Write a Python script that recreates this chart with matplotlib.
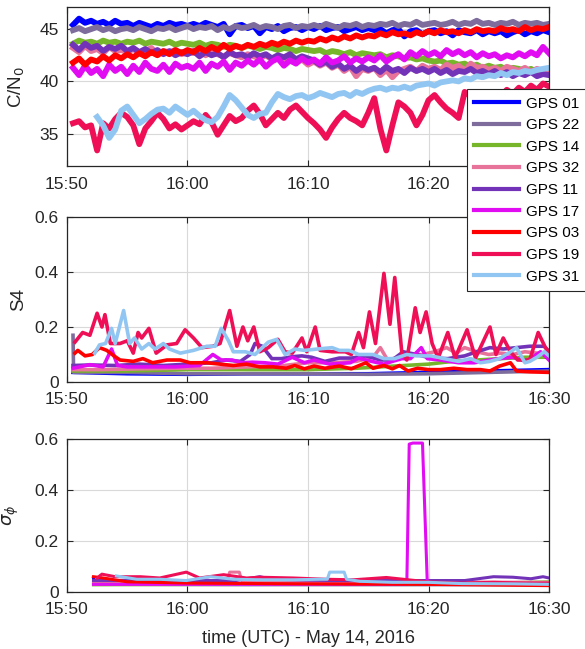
import numpy as np
import matplotlib.pyplot as plt

plt.rcParams['font.family'] = ['Liberation Sans', 'DejaVu Sans']

# time axis in minutes after 15:50 UTC
tick_min = [0, 10, 20, 30, 40]
tick_lbl = ['15:50', '16:00', '16:10', '16:20', '16:30']

sats = ['GPS 01', 'GPS 22', 'GPS 14', 'GPS 32', 'GPS 11', 'GPS 17', 'GPS 03', 'GPS 19', 'GPS 31']
colors = ['#0000ff', '#7d6c9c', '#77b52a', '#e8739a', '#7233b8', '#e20cf2', '#ff0000', '#ee0f57', '#92c6f2']

# C/N0 samples every 30 s from 15:50:30 to 16:30
t_cn0 = np.arange(0.5, 40.01, 0.5)
nan = np.nan

cn0_01 = [45.4, 46.0, 45.6, 45.8, 45.5, 45.7, 45.4, 45.8, 45.5, 45.6,
          45.3, 45.6, 45.4, 45.2, 45.5, 45.3, 45.6, 45.4, 45.5, 45.3,
          45.5, 45.3, 45.6, 45.4, 45.2, 45.5, 44.5, 45.3, 45.4, 45.1,
          45.3, 44.6, 45.2, 45.0, 45.3, 44.8, 45.1, 45.2, 44.9, 45.2,
          45.0, 45.3, 44.9, 45.1, 45.2, 44.8, 45.0, 45.2, 44.9, 45.1,
          44.9, 45.0, 44.6, 44.9, 45.0, 44.3, 44.8, 44.9, 44.5, 44.8,
          44.9, 44.6, 44.8, 44.4, 44.9, 44.7, 44.6, 44.9, 44.5, 44.8,
          44.6, 44.8, 44.4, 44.7, 44.9, 44.5, 44.8, 44.6, 44.9, 44.7]
cn0_22 = [44.9, 45.1, 44.8, 45.0, 45.2, 44.9, 45.1, 44.8, 45.0, 45.1,
          44.9, 45.2, 45.0, 44.8, 45.1, 45.0, 45.2, 44.9, 45.1, 45.3,
          45.0, 45.2, 45.1, 45.3, 44.9, 45.2, 45.0, 45.3, 45.1, 45.2,
          45.4, 45.1, 45.3, 45.2, 45.0, 45.3, 45.4, 45.1, 45.3, 45.2,
          45.4, 45.2, 45.5, 45.3, 45.1, 45.4, 45.3, 45.5, 45.2, 45.4,
          45.3, 45.5, 45.4, 45.6, 45.3, 45.5, 45.4, 45.7, 45.4, 45.5,
          45.6, 45.4, 45.5, 45.7, 45.4, 45.6, 45.5, 45.8, 45.5, 45.6,
          45.4, 45.6, 45.5, 45.7, 45.4, 45.6, 45.5, 45.6, 45.4, 45.5]
cn0_14 = [43.6, 43.9, 43.7, 43.8, 43.6, 43.9, 43.7, 43.8, 43.6, 43.8,
          43.7, 43.9, 43.6, 43.8, 43.7, 43.6, 43.8, 43.5, 43.7, 43.6,
          43.5, 43.7, 43.4, 43.6, 43.5, 43.3, 43.5, 43.4, 43.2, 43.4,
          43.3, 43.1, 43.3, 43.2, 43.0, 43.2, 43.1, 42.9, 43.1, 43.0,
          42.9, 43.0, 42.7, 42.9, 42.8, 42.6, 42.8, 42.5, 42.7, 42.6,
          42.5, 42.6, 42.3, 42.5, 42.4, 42.2, 42.3, 42.1, 42.2, 42.0,
          41.9, 42.0, 41.7, 41.8, 41.6, 41.7, 41.4, 41.6, 41.3, 41.5,
          41.3, 41.4, 41.1, 41.3, 41.2, 41.0, 41.2, 40.9, 41.1, 41.0]
cn0_32 = [43.2, 42.8, 43.4, 42.9, 43.1, 42.7, 43.3, 42.9, 43.0, 42.8,
          43.1, 42.7, 42.9, 43.2, 42.6, 42.9, 42.8, 43.0, 42.6, 42.8,
          42.7, 42.9, 42.5, 42.8, 42.6, 42.4, 42.7, 42.5, 42.3, 42.6,
          42.4, 42.2, 42.5, 42.1, 42.3, 42.0, 42.2, 41.8, 42.1, 41.6,
          41.9, 41.5, 41.8, 41.3, 41.6, 41.0, 41.4, 40.5, 41.2, 41.0,
          41.3, 40.6, 41.1, 40.4, 41.0, 41.2, 41.4, 41.0, 41.5, 41.2,
          41.4, 41.1, 41.6, 41.3, 41.5, 41.0, 41.7, 41.3, 41.4, 41.1,
          41.3, 41.0, 41.4, 41.2, 41.0, 41.3, 40.9, 41.2, 41.0, 41.1]
cn0_11 = [43.5, 43.0, 43.6, 43.2, 43.4, 42.9, 43.3, 43.1, 43.4, 42.9,
          43.2, 42.8, 43.1, 42.7, 43.0, 42.6, 42.9, 42.5, 42.8, 42.6,
          42.9, 42.4, 42.8, 42.5, 42.7, 42.3, 42.8, 42.5, 42.6, 42.3,
          42.7, 42.4, 42.6, 42.2, 42.5, 42.3, 42.6, 42.1, 42.4, 42.2,
          42.0, 41.6, 41.9, 41.4, 41.7, 41.2, 41.5, 41.0, 41.4, 41.1,
          41.3, 40.9, 41.4, 41.0, 41.2, 40.8, 41.3, 41.0, 41.2, 40.9,
          41.2, 40.8, 41.1, 40.7, 41.0, 40.9, 41.2, 40.8, 41.0, 40.7,
          41.0, 40.6, 40.9, 40.5, 40.8, 40.6, 40.9, 40.5, 40.7, 40.6]
cn0_17 = [41.3, 40.6, 41.5, 40.8, 41.2, 40.5, 41.6, 41.0, 41.4, 40.7,
          41.5, 40.9, 41.8, 41.2, 41.0, 41.6, 40.9, 41.7, 41.3, 41.5,
          41.2, 41.8, 41.0, 41.7, 41.4, 41.9, 41.1, 41.8, 41.5, 42.0,
          41.6, 42.1, 41.4, 41.9, 42.2, 41.5, 42.0, 41.7, 42.2, 41.8,
          42.1, 41.7, 42.3, 41.8, 42.0, 42.4, 41.8, 42.2, 41.9, 42.3,
          42.0, 42.5, 41.9, 42.3, 42.6, 42.1, 42.8, 42.4, 42.9, 42.5,
          42.8, 42.4, 43.0, 42.6, 42.9, 42.5, 42.8, 42.3, 42.7, 42.4,
          42.6, 42.2, 42.5, 42.3, 42.7, 42.4, 42.8, 42.5, 43.3, 42.7]
cn0_03 = [41.8, 42.2, 41.6, 42.1, 41.9, 42.4, 42.0, 42.5, 42.2, 42.6,
          42.3, 42.7, 42.4, 42.8, 42.5, 42.9, 42.6, 43.0, 42.7, 43.0,
          42.8, 43.2, 42.9, 43.3, 43.0, 43.5, 43.1, 43.4, 43.2, 43.5,
          43.3, 43.6, 43.4, 43.7, 43.5, 43.8, 43.6, 43.9, 43.7, 43.9,
          43.8, 44.1, 43.9, 44.2, 44.0, 44.3, 44.1, 44.4, 44.2, 44.4,
          44.3, 44.6, 44.4, 44.7, 44.5, 44.6, 44.4, 44.7, 44.5, 44.8,
          44.6, 44.9, 44.7, 44.8, 44.6, 44.9, 44.7, 45.0, 44.8, 44.9,
          44.8, 45.1, 44.9, 45.0, 44.8, 45.2, 44.9, 45.1, 45.0, 45.2]
cn0_19 = [36.0, 36.2, 35.6, 35.8, 33.4, 36.0, 35.5, 36.4, 37.0, 36.6,
          35.8, 34.0, 35.5, 36.2, 37.0, 36.4, 35.5, 35.9, 35.4, 35.8,
          36.2, 35.9, 36.8, 36.1, 34.9, 35.8, 36.7, 36.2, 36.5, 37.2,
          37.7, 36.9, 35.8, 36.4, 37.0, 36.5, 37.3, 37.7, 37.1, 36.5,
          36.0, 35.4, 34.6, 35.6, 36.4, 37.0, 36.5, 36.2, 35.8, 37.0,
          38.4, 35.5, 33.4, 35.8, 38.0, 37.6, 37.0, 35.8, 36.8, 38.2,
          38.7, 38.0, 37.4, 37.0, 36.5, 39.0, 38.6, 38.2, 38.8, 38.4,
          39.0, 38.6, 39.2, 38.8, 39.4, 39.0, 39.6, 39.2, 39.8, 39.5]
cn0_31 = [nan, nan, nan, nan, 36.6, 35.8, 34.6, 35.4, 37.2, 37.6,
          36.8, 36.0, 36.4, 36.9, 37.3, 37.4, 37.0, 37.6, 37.2, 36.8,
          37.2, 36.7, 36.3, 36.1, 36.6, 37.6, 38.7, 38.2, 37.5, 36.8,
          36.5, 36.9, 37.0, 38.0, 38.8, 38.5, 38.3, 38.6, 38.7, 38.4,
          38.6, 38.9, 38.7, 38.5, 38.8, 38.9, 38.6, 39.0, 38.8, 39.1,
          39.3, 39.4, 39.2, 39.4, 39.3, 39.5, 39.3, 39.6, 39.7, 39.8,
          39.6, 39.9, 40.0, 40.1, 40.0, 40.3, 40.2, 40.5, 40.4, 40.6,
          40.5, 40.8, 40.6, 40.9, 40.8, 41.0, 40.9, 41.1, 41.2, 41.3]
cn0 = [cn0_01, cn0_22, cn0_14, cn0_32, cn0_11, cn0_17, cn0_03, cn0_19, cn0_31]

# S4 index: (minute, value) pairs
s4_01 = [(0.5, 0.035), (5, 0.03), (10, 0.028), (15, 0.03), (20, 0.03), (25, 0.03), (30, 0.035), (35, 0.04), (40, 0.045)]
s4_22 = [(0.5, 0.17), (0.55, 0.035), (5, 0.035), (10, 0.03), (15, 0.03), (20, 0.03), (25, 0.028), (30, 0.03), (35, 0.035), (40, 0.04)]
s4_14 = [(0.5, 0.04), (5, 0.04), (10, 0.045), (15, 0.045), (20, 0.045), (24, 0.05), (26, 0.055), (28, 0.06),
         (30, 0.065), (32, 0.075), (34, 0.08), (36, 0.085), (38, 0.09), (40, 0.09)]
s4_32 = [(0.5, 0.045), (3, 0.045), (6, 0.048), (9, 0.05), (12, 0.05), (15, 0.055), (18, 0.06), (20, 0.07), (22, 0.07),
         (24, 0.075), (25.4, 0.09), (26.0, 0.125), (26.6, 0.08), (27.5, 0.09), (28.5, 0.10), (29.5, 0.10), (30.5, 0.11),
         (31.5, 0.125), (32.3, 0.105), (33.0, 0.125), (34.0, 0.11), (35.0, 0.10), (36.0, 0.105), (37.0, 0.10),
         (38.0, 0.11), (39.0, 0.105), (40.0, 0.10)]
s4_11 = [(0.5, 0.06), (2, 0.062), (4, 0.06), (6, 0.065), (8, 0.06), (10, 0.065), (12, 0.07), (13.2, 0.08), (14.4, 0.075),
         (15.2, 0.10), (15.6, 0.14), (16.2, 0.13), (17.0, 0.085), (17.8, 0.085), (18.7, 0.092), (19.5, 0.095),
         (20.3, 0.09), (21.4, 0.075), (22.6, 0.087), (23.6, 0.087), (24.8, 0.095), (26.0, 0.08), (27.0, 0.08),
         (27.9, 0.11), (29.0, 0.10), (30.2, 0.087), (31.6, 0.085), (33.0, 0.095), (34.0, 0.11), (35.1, 0.125),
         (36.2, 0.12), (37.3, 0.125), (38.4, 0.13), (39.6, 0.13), (40.0, 0.11)]
s4_17 = [(0.5, 0.05), (1.9, 0.063), (3.0, 0.055), (3.7, 0.12), (4.2, 0.06), (5, 0.055), (7, 0.055), (9, 0.055),
         (11, 0.06), (12.1, 0.10), (12.8, 0.08), (13.7, 0.08), (14.5, 0.07), (15.4, 0.072), (16.4, 0.07),
         (17.5, 0.065), (18.7, 0.09), (19.7, 0.07), (20.5, 0.08), (21.8, 0.065), (23.5, 0.07), (24.2, 0.087),
         (24.8, 0.08), (26.3, 0.065), (27.0, 0.075), (27.8, 0.085), (28.5, 0.085), (29.4, 0.125), (29.9, 0.085),
         (31.0, 0.08), (32.5, 0.07), (33.8, 0.07), (35.1, 0.08), (36.2, 0.087), (37.0, 0.09), (38.1, 0.075),
         (39.3, 0.11), (40.0, 0.08)]
s4_03 = [(0.66, 0.105), (0.9, 0.115), (1.5, 0.095), (2.1, 0.10), (2.7, 0.125), (3.3, 0.115), (3.9, 0.095), (4.4, 0.08),
         (5.5, 0.075), (6.3, 0.085), (7.1, 0.07), (8.3, 0.08), (9.4, 0.08), (10.2, 0.07), (11.6, 0.07), (12.7, 0.065),
         (13.8, 0.06), (14.9, 0.065), (16.0, 0.055), (17.1, 0.055), (18.2, 0.05), (18.9, 0.06), (19.7, 0.048),
         (20.5, 0.058), (21.4, 0.05), (22.6, 0.058), (23.6, 0.048), (24.8, 0.07), (25.4, 0.05), (26.3, 0.06),
         (27.0, 0.048), (27.6, 0.06), (28.3, 0.04), (29.1, 0.05), (30.0, 0.045), (31.0, 0.045), (32.1, 0.05),
         (33.2, 0.045), (34.3, 0.045), (35.1, 0.04), (35.9, 0.058), (36.8, 0.07), (37.3, 0.04), (38.4, 0.037),
         (40.0, 0.035)]
s4_19 = [(0.66, 0.145), (1.3, 0.18), (1.9, 0.17), (2.5, 0.25), (2.9, 0.20), (3.15, 0.245), (3.6, 0.14), (4.4, 0.14),
         (5.0, 0.15), (5.5, 0.105), (5.9, 0.18), (6.2, 0.16), (6.8, 0.195), (7.4, 0.105), (8.3, 0.135), (9.1, 0.14),
         (9.8, 0.19), (10.5, 0.16), (11.2, 0.125), (12.1, 0.13), (12.7, 0.14), (13.5, 0.26), (14.1, 0.13),
         (14.6, 0.20), (15.0, 0.15), (15.5, 0.20), (16.0, 0.11), (16.7, 0.125), (17.5, 0.155), (18.1, 0.11),
         (18.7, 0.105), (19.5, 0.16), (19.9, 0.11), (20.6, 0.20), (21.0, 0.115), (22.0, 0.11), (23.1, 0.11),
         (23.6, 0.10), (24.2, 0.18), (24.6, 0.125), (25.1, 0.255), (25.6, 0.14), (26.3, 0.395), (26.8, 0.21),
         (27.2, 0.38), (27.8, 0.10), (28.2, 0.08), (28.9, 0.27), (29.3, 0.18), (29.8, 0.255), (30.3, 0.14),
         (30.8, 0.087), (31.6, 0.18), (32.2, 0.087), (33.2, 0.19), (33.9, 0.087), (35.1, 0.20), (35.6, 0.10),
         (36.2, 0.16), (36.8, 0.11), (37.4, 0.08), (38.4, 0.08), (39.1, 0.18), (39.7, 0.125), (40.0, 0.11)]
s4_31 = [(2.3, 0.105), (2.7, 0.135), (3.2, 0.14), (3.7, 0.195), (4.0, 0.14), (4.7, 0.26), (5.2, 0.14), (5.6, 0.16),
         (6.2, 0.12), (6.8, 0.14), (7.3, 0.12), (8.0, 0.14), (8.5, 0.12), (9.4, 0.105), (10.5, 0.115), (11.6, 0.13),
         (12.3, 0.13), (12.8, 0.195), (13.4, 0.15), (13.8, 0.11), (14.8, 0.11), (15.6, 0.10), (16.7, 0.145),
         (17.4, 0.155), (18.1, 0.10), (18.9, 0.12), (19.7, 0.115), (20.8, 0.12), (22.0, 0.125), (22.6, 0.115),
         (23.4, 0.115), (24.2, 0.10), (25.4, 0.10), (26.3, 0.085), (27.2, 0.085), (28.2, 0.10), (29.0, 0.095),
         (30.2, 0.095), (31.3, 0.085), (32.5, 0.075), (33.5, 0.085), (34.3, 0.07), (35.1, 0.075), (35.9, 0.085),
         (36.8, 0.11), (37.3, 0.125), (38.0, 0.07), (38.4, 0.075), (39.0, 0.09), (39.6, 0.11), (40.0, 0.095)]
s4 = [s4_01, s4_22, s4_14, s4_32, s4_11, s4_17, s4_03, s4_19, s4_31]

# phase scintillation sigma_phi: (minute, value)
sp_01 = [(2.2, 0.055), (2.3, 0.03), (10, 0.032), (20, 0.03), (30, 0.03), (40, 0.03)]
sp_22 = [(2.2, 0.03), (15, 0.028), (30, 0.028), (40, 0.028)]
sp_14 = [(2.2, 0.028), (20, 0.03), (35, 0.035), (40, 0.04)]
sp_32 = [(2.2, 0.04), (8, 0.04), (13.3, 0.045), (13.5, 0.078), (14.3, 0.078), (14.5, 0.045), (20, 0.04), (30, 0.04),
         (40, 0.038)]
sp_11 = [(2.2, 0.045), (8, 0.045), (14, 0.045), (16, 0.06), (17, 0.05), (22, 0.045), (28, 0.045), (33, 0.045),
         (35.4, 0.06), (37, 0.058), (38.5, 0.052), (39.5, 0.06), (40, 0.055)]
sp_17 = [(2.2, 0.03), (10, 0.03), (20, 0.03), (28.2, 0.03), (28.4, 0.58), (28.7, 0.584), (29.5, 0.584), (29.9, 0.035),
         (30.2, 0.03), (35, 0.03), (40, 0.03)]
sp_03 = [(2.2, 0.06), (3, 0.055), (5, 0.04), (10, 0.035), (20, 0.032), (30, 0.03), (40, 0.025)]
sp_19 = [(2.5, 0.055), (2.9, 0.07), (4, 0.06), (6.1, 0.06), (7.7, 0.055), (9.9, 0.078), (11, 0.055), (13, 0.068),
         (14.9, 0.055), (16, 0.058), (18.8, 0.055), (21.5, 0.05), (23.8, 0.048), (26.5, 0.057), (29.9, 0.04),
         (32.7, 0.035), (35.4, 0.038), (38, 0.035), (40, 0.035)]
sp_31 = [(4.1, 0.063), (5.8, 0.05), (7.7, 0.05), (9.9, 0.045), (11.9, 0.06), (13.8, 0.05), (16, 0.048), (18.8, 0.048),
         (21, 0.05), (21.6, 0.05), (21.8, 0.078), (23.0, 0.078), (23.2, 0.05), (24.3, 0.042), (27, 0.038), (30, 0.038),
         (32.8, 0.033), (37, 0.032), (40, 0.03)]
sigphi = [sp_01, sp_22, sp_14, sp_32, sp_11, sp_17, sp_03, sp_19, sp_31]


def style_axis(ax):
    ax.set_xlim(0, 40)
    ax.set_xticks(tick_min)
    ax.set_xticklabels(tick_lbl)
    ax.grid(True, color='#d9d9d9', linewidth=0.8)
    ax.set_axisbelow(True)
    ax.tick_params(direction='in', top=True, right=True, length=4, labelsize=12.5,
                   colors='#262626', width=0.8)
    ax.tick_params(axis='x', pad=7.5)
    ax.tick_params(axis='y', pad=6)
    ax.yaxis.set_label_coords(-0.083, 0.5)
    for sp in ax.spines.values():
        sp.set_color('#262626')
        sp.set_linewidth(0.9)


fig = plt.figure(figsize=(5.85, 6.49), dpi=100)
ax1 = fig.add_axes([0.1145, 0.744, 0.824, 0.245])
ax2 = fig.add_axes([0.1145, 0.4114, 0.824, 0.2542])
ax3 = fig.add_axes([0.1145, 0.0878, 0.824, 0.2358])

handles = []
for vals, c, name in zip(cn0, colors, sats):
    h, = ax1.plot(t_cn0, vals, color=c, lw=4.2, label=name)
    handles.append(h)
ax1.set_ylim(31.9, 47.1)
ax1.set_yticks([35, 40, 45])
ax1.set_ylabel('C/N$_0$', fontsize=13.5, color='#262626')
style_axis(ax1)
# the legend box sits over the last time label of the top panel
ax1.get_xticklabels()[-1].set_visible(False)

for pts, c in zip(s4, colors):
    pts = np.array(pts)
    ax2.plot(pts[:, 0], pts[:, 1], color=c, lw=2.6)
ax2.set_ylim(0, 0.6)
ax2.set_yticks([0, 0.2, 0.4, 0.6])
ax2.set_yticklabels(['0', '0.2', '0.4', '0.6'])
ax2.set_ylabel('S4', fontsize=13.5, color='#262626')
style_axis(ax2)

for pts, c in zip(sigphi, colors):
    pts = np.array(pts)
    ax3.plot(pts[:, 0], pts[:, 1], color=c, lw=2.2)
ax3.set_ylim(0, 0.6)
ax3.set_yticks([0, 0.2, 0.4, 0.6])
ax3.set_yticklabels(['0', '0.2', '0.4', '0.6'])
ax3.set_ylabel(r'$\sigma_\phi$', fontsize=13, color='#262626')
ax3.set_xlabel('time (UTC) - May 14, 2016', fontsize=13, color='#262626', labelpad=9)
style_axis(ax3)
ax3.yaxis.set_label_coords(-0.095, 0.5)

leg = fig.legend(handles=handles, loc='upper left', bbox_to_anchor=(0.798, 0.863),
                 fontsize=11, frameon=True, fancybox=False, framealpha=1,
                 edgecolor='#262626', handlelength=2.9, labelspacing=0.5,
                 borderpad=0.5, handletextpad=0.45, borderaxespad=0)
leg.get_frame().set_linewidth(0.8)
for line in leg.get_lines():
    line.set_linewidth(3)

fig.savefig('out.png', dpi=100)
